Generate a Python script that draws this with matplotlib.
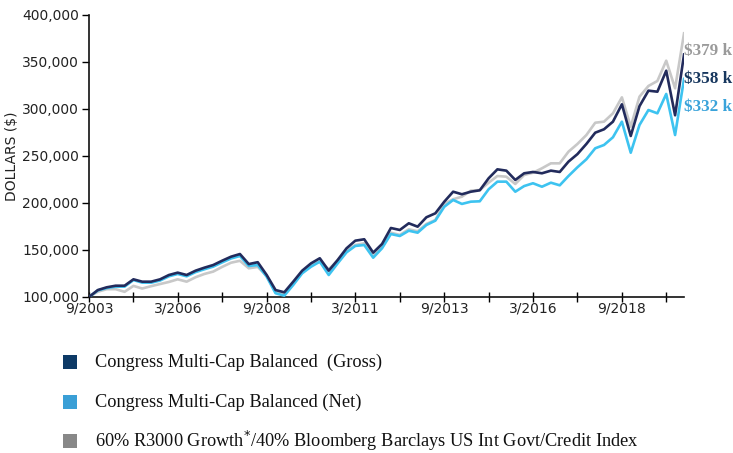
import numpy as np
import pandas as pd
import matplotlib
matplotlib.use("Agg")
from matplotlib import pyplot as plt
from matplotlib.patches import Rectangle


# quarterly growth of $100,000, 9/2003 .. 6/2020 (values in $k)
dates = pd.date_range("2003-09-01", periods=68, freq="3MS")

gross = [100, 107.4, 110.3, 112, 112, 118.8, 116.3, 116.3, 118.8, 123.4,
         125.9, 123.4, 128, 131.2, 134, 138.6, 142.9, 145.7, 135, 137,
         123.4, 107.4, 105, 116.3, 128, 135.8, 141.2, 128, 139.4, 151.8,
         159.9, 161.4, 147.2, 156.4, 173.4, 171.3, 178.4, 174.8, 184.8, 189,
         201.4, 212, 209.3, 212, 213.5, 226.3, 235.8, 234.4, 224.5, 231.6,
         233, 231.6, 234.4, 233, 244, 252, 262.8, 274.8, 278.4, 286.5,
         305, 271.3, 303, 319.5, 318.4, 340.7, 293.3, 358]

net = [100, 107, 109.5, 111, 111, 118, 115.3, 115.2, 117.5, 122,
       124.5, 122, 126.5, 129.5, 132.3, 136.8, 141, 143.6, 133, 134,
       121.6, 104, 101.4, 112.8, 125.2, 132.2, 137.6, 123.4, 135.8, 147.5,
       154.3, 155.3, 141.8, 151.8, 167, 164.9, 170.5, 168.4, 176.6, 181.2,
       196, 203.2, 199, 201.4, 201.8, 214.6, 222.7, 222.7, 212, 218,
       221, 217.3, 221.6, 218.8, 228.7, 238, 246.5, 258.2, 261.7, 269.9,
       286.5, 253.5, 283, 298.9, 295.4, 316, 272.3, 332]

bench = [100, 105.6, 108.3, 108.3, 105.5, 111.8, 109, 111.5, 113.8, 116,
         118.8, 116.3, 121, 124.5, 127, 132, 136.5, 138.5, 130.5, 132,
         122.3, 105.6, 103.2, 114.6, 125.9, 134, 137.6, 129.5, 138.6, 149.3,
         155.3, 157.1, 144.7, 152.9, 168.4, 166, 172, 169.9, 177.7, 181.9,
         199, 204, 206.7, 213.1, 213.8, 221.6, 228.7, 228, 220.2, 229.8,
         232.2, 236.9, 242.2, 242.2, 254.6, 262.8, 272.3, 285.4, 286.5, 295.4,
         312.4, 281.2, 313.1, 324.5, 329.8, 351.4, 322, 380.5]

end_labels = ["\\$379 k", "\\$358 k", "\\$332 k"]
legend_labels = [
    "Congress Multi-Cap Balanced  (Gross)",
    "Congress Multi-Cap Balanced (Net)",
    "60% R3000 Growth$^{*}$/40% Bloomberg Barclays US Int Govt/Credit Index",
]

NAVY = "#222b5c"
SKY = "#3dc3f0"
GREY = "#c8c8c8"
serif = "Liberation Serif"

fig = plt.figure(figsize=(7.33, 4.53), dpi=100)
ax = fig.add_axes([0.1214, 0.3444, 0.8118, 0.6225])

ax.plot(dates, np.array(bench) * 1000, color=GREY, lw=1.9, zorder=2)
ax.plot(dates, np.array(net) * 1000, color=SKY, lw=1.9, zorder=3)
ax.plot(dates, np.array(gross) * 1000, color=NAVY, lw=1.9, zorder=4)

ax.set_ylim(100000, 400000)
ax.set_xlim(dates[0], pd.Timestamp("2020-06-01"))
ax.set_yticks(np.arange(100000, 400001, 50000))
ax.yaxis.set_major_formatter(matplotlib.ticker.FuncFormatter(lambda v, p: f"{int(v):,}"))

major = pd.date_range("2003-09-01", "2020-06-01", freq="30MS")
minor = pd.date_range("2004-12-01", "2020-06-01", freq="30MS")
ax.set_xticks(major)
ax.set_xticklabels([f"{d.month}/{d.year}" for d in major])
ax.set_xticks(minor, minor=True)

for s in ["top", "right"]:
    ax.spines[s].set_visible(False)
for s in ["left", "bottom"]:
    ax.spines[s].set_linewidth(1.2)
    ax.spines[s].set_color("#111111")

ax.tick_params(axis="y", direction="out", length=5, width=1, labelsize=10,
               labelcolor="#222222", pad=2)
ax.tick_params(axis="x", which="both", direction="inout", length=7, width=1,
               labelsize=10, labelcolor="#222222", pad=0)
ax.set_ylabel("DOLLARS (\\$)", fontsize=10, color="#222222", labelpad=2)

# end-value labels next to the last points
end_y = [362000, 332000, 302000]
end_colors = ["#9a9a9a", "#17375e", "#3aa3da"]
for lab, yv, col in zip(end_labels, end_y, end_colors):
    ax.annotate(lab, xy=(1.0, yv), xycoords=("axes fraction", "data"),
                xytext=(0, 0), textcoords="offset points", va="center",
                fontsize=12.3, fontweight="bold", color=col, family=serif,
                annotation_clip=False)

# legend
legend_colors = ["#0d3a66", "#3a9fd6", "#888888"]
rows_y = [1 - 362 / 453, 1 - 402 / 453, 1 - 441 / 453]
for lab, col, y in zip(legend_labels, legend_colors, rows_y):
    fig.add_artist(Rectangle((63 / 733, y - 7 / 453), 14 / 733, 14 / 453,
                             transform=fig.transFigure, color=col, lw=0))
    fig.text(95 / 733, y, lab, va="center", ha="left", fontsize=13.2,
             family=serif, color="#111111")

fig.savefig("out.png", dpi=100)
